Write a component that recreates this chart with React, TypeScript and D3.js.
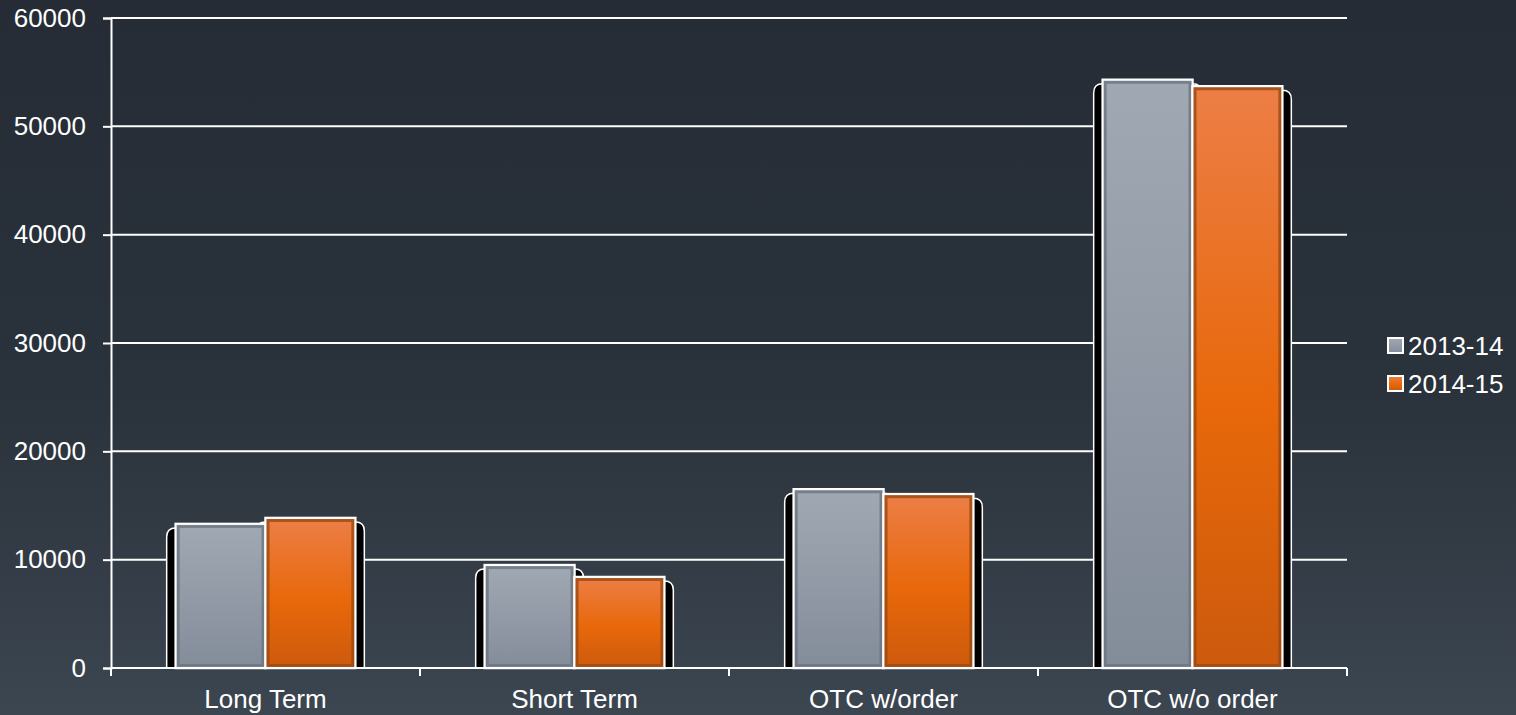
import * as d3 from 'd3';
import { useRef, useEffect } from 'react';

const categories = ['Long Term', 'Short Term', 'OTC w/order', 'OTC w/o order'];
const seriesNames = ['2013-14', '2014-15'];
const values2013 = [13300, 9500, 16500, 54300];
const values2014 = [13850, 8400, 16050, 53700];
const yTicks = [0, 10000, 20000, 30000, 40000, 50000, 60000];

const W = 1516;
const H = 715;
const FONT = 'Liberation Sans, Arial, sans-serif';

function App() {
    const svgRef = useRef<SVGSVGElement>(null);

    useEffect(() => {
        const svg = d3.select(svgRef.current)
            .attr('width', W)
            .attr('height', H);
        svg.selectAll('*').remove();

        const margin = { top: 18, right: 169, bottom: 47, left: 111 };
        const innerWidth = W - margin.left - margin.right;
        const innerHeight = H - margin.top - margin.bottom;

        const defs = svg.append('defs');
        const bg = defs.append('linearGradient').attr('id', 'bg')
            .attr('x1', 0).attr('y1', 0).attr('x2', 0).attr('y2', 1);
        bg.append('stop').attr('offset', '0%').attr('stop-color', '#252c35');
        bg.append('stop').attr('offset', '55%').attr('stop-color', '#2a323b');
        bg.append('stop').attr('offset', '100%').attr('stop-color', '#3c4650');

        const grays = defs.append('linearGradient').attr('id', 'g0')
            .attr('x1', 0).attr('y1', 0).attr('x2', 0).attr('y2', 1);
        grays.append('stop').attr('offset', '0%').attr('stop-color', '#a0a9b3');
        grays.append('stop').attr('offset', '100%').attr('stop-color', '#838c99');

        const orng = defs.append('linearGradient').attr('id', 'g1')
            .attr('x1', 0).attr('y1', 0).attr('x2', 0).attr('y2', 1);
        orng.append('stop').attr('offset', '0%').attr('stop-color', '#ec7e46');
        orng.append('stop').attr('offset', '55%').attr('stop-color', '#e8680a');
        orng.append('stop').attr('offset', '100%').attr('stop-color', '#cc5a0d');

        svg.append('rect').attr('width', W).attr('height', H).attr('fill', 'url(#bg)');

        const g = svg.append('g')
            .attr('transform', `translate(${margin.left},${margin.top})`);

        // Scales
        const x0 = d3.scaleBand<string>()
            .domain(categories)
            .range([0, innerWidth]);

        const x1 = d3.scaleBand<string>()
            .domain(seriesNames)
            .range([0, x0.bandwidth()])
            .paddingOuter(0.72);

        const y = d3.scaleLinear()
            .domain([0, 60000])
            .range([innerHeight, 0]);

        // Gridlines
        g.selectAll('line.grid')
            .data(yTicks.slice(1))
            .enter()
            .append('line')
            .attr('x1', 0)
            .attr('x2', innerWidth)
            .attr('y1', d => y(d))
            .attr('y2', d => y(d))
            .attr('stroke', '#ffffff')
            .attr('stroke-width', 2);

        // Bars
        const barData = categories.flatMap((c, i) => [
            { c, s: seriesNames[0], v: values2013[i], k: 0 },
            { c, s: seriesNames[1], v: values2014[i], k: 1 },
        ]);
        const bx = (d: { c: string; s: string }) => (x0(d.c) as number) + (x1(d.s) as number);

        // shadows first, so the bars of a group cover each other's
        g.append('g').selectAll('path')
            .data(barData)
            .enter()
            .append('path')
            .attr('d', d => {
                const left = bx(d) - 9;
                const bw = x1.bandwidth() + 18;
                const top = y(d.v) + 4;
                const bottom = y(0);
                const r = 9;
                return `M${left},${bottom} L${left},${top + r} Q${left},${top} ${left + r},${top} L${left + bw - r},${top} Q${left + bw},${top} ${left + bw},${top + r} L${left + bw},${bottom} Z`;
            })
            .attr('fill', '#000000')
            .attr('stroke', '#ffffff')
            .attr('stroke-width', 1.5);

        const bars = g.append('g').selectAll('g')
            .data(barData)
            .enter()
            .append('g');

        bars.append('rect')
            .attr('x', d => bx(d))
            .attr('y', d => y(d.v))
            .attr('width', x1.bandwidth())
            .attr('height', d => y(0) - y(d.v))
            .attr('fill', d => `url(#g${d.k})`)
            .attr('stroke', '#ffffff')
            .attr('stroke-width', 2.5);

        bars.append('rect')
            .attr('x', d => bx(d) + 2.5)
            .attr('y', d => y(d.v) + 2.5)
            .attr('width', x1.bandwidth() - 5)
            .attr('height', d => y(0) - y(d.v) - 5)
            .attr('fill', 'none')
            .attr('stroke', d => d.k === 0 ? '#6c7480' : '#9a4a12')
            .attr('stroke-opacity', 0.8)
            .attr('stroke-width', 3);

        // Axes
        const yAxis = g.append('g')
            .call(d3.axisLeft(y).tickValues(yTicks).tickSize(8).tickPadding(17).tickFormat(d3.format('d')));
        yAxis.select('.domain').attr('stroke', '#ffffff').attr('stroke-width', 2);
        yAxis.selectAll('line').attr('stroke', '#ffffff').attr('stroke-width', 2);
        yAxis.selectAll('text')
            .attr('fill', '#ffffff')
            .attr('font-family', FONT)
            .attr('font-size', 26);

        const boundaries = [0, 1, 2, 3, 4].map(i => i * x0.step());
        const xAxis = g.append('g').attr('transform', `translate(0,${innerHeight})`);
        xAxis.append('line')
            .attr('x1', 0).attr('x2', innerWidth)
            .attr('stroke', '#ffffff').attr('stroke-width', 2);
        xAxis.selectAll('line.tick')
            .data(boundaries)
            .enter()
            .append('line')
            .attr('x1', d => d).attr('x2', d => d)
            .attr('y1', 0).attr('y2', 8)
            .attr('stroke', '#ffffff').attr('stroke-width', 2);
        xAxis.selectAll('text')
            .data(categories)
            .enter()
            .append('text')
            .attr('x', d => (x0(d) as number) + x0.bandwidth() / 2)
            .attr('y', 40)
            .attr('text-anchor', 'middle')
            .attr('fill', '#ffffff')
            .attr('font-family', FONT)
            .attr('font-size', 26)
            .text(d => d);

        // Legend
        const legend = svg.append('g').attr('transform', 'translate(1387,337)');
        const items = legend.selectAll('g')
            .data(seriesNames)
            .enter()
            .append('g')
            .attr('transform', (d, i) => `translate(0,${i * 38})`);
        items.append('rect')
            .attr('x', 1).attr('y', 1)
            .attr('width', 15).attr('height', 15)
            .attr('fill', (d, i) => `url(#g${i})`)
            .attr('stroke', '#ffffff')
            .attr('stroke-width', 2);
        items.append('text')
            .attr('x', 21)
            .attr('y', 8.5)
            .attr('dy', '0.35em')
            .attr('fill', '#ffffff')
            .attr('font-family', FONT)
            .attr('font-size', 26)
            .text(d => d);
    }, []);

    return (
        <div style={{ position: 'fixed', left: 0, top: 0 }}>
            <svg ref={svgRef} style={{ display: 'block' }}></svg>
        </div>
    );
}

export default App;
